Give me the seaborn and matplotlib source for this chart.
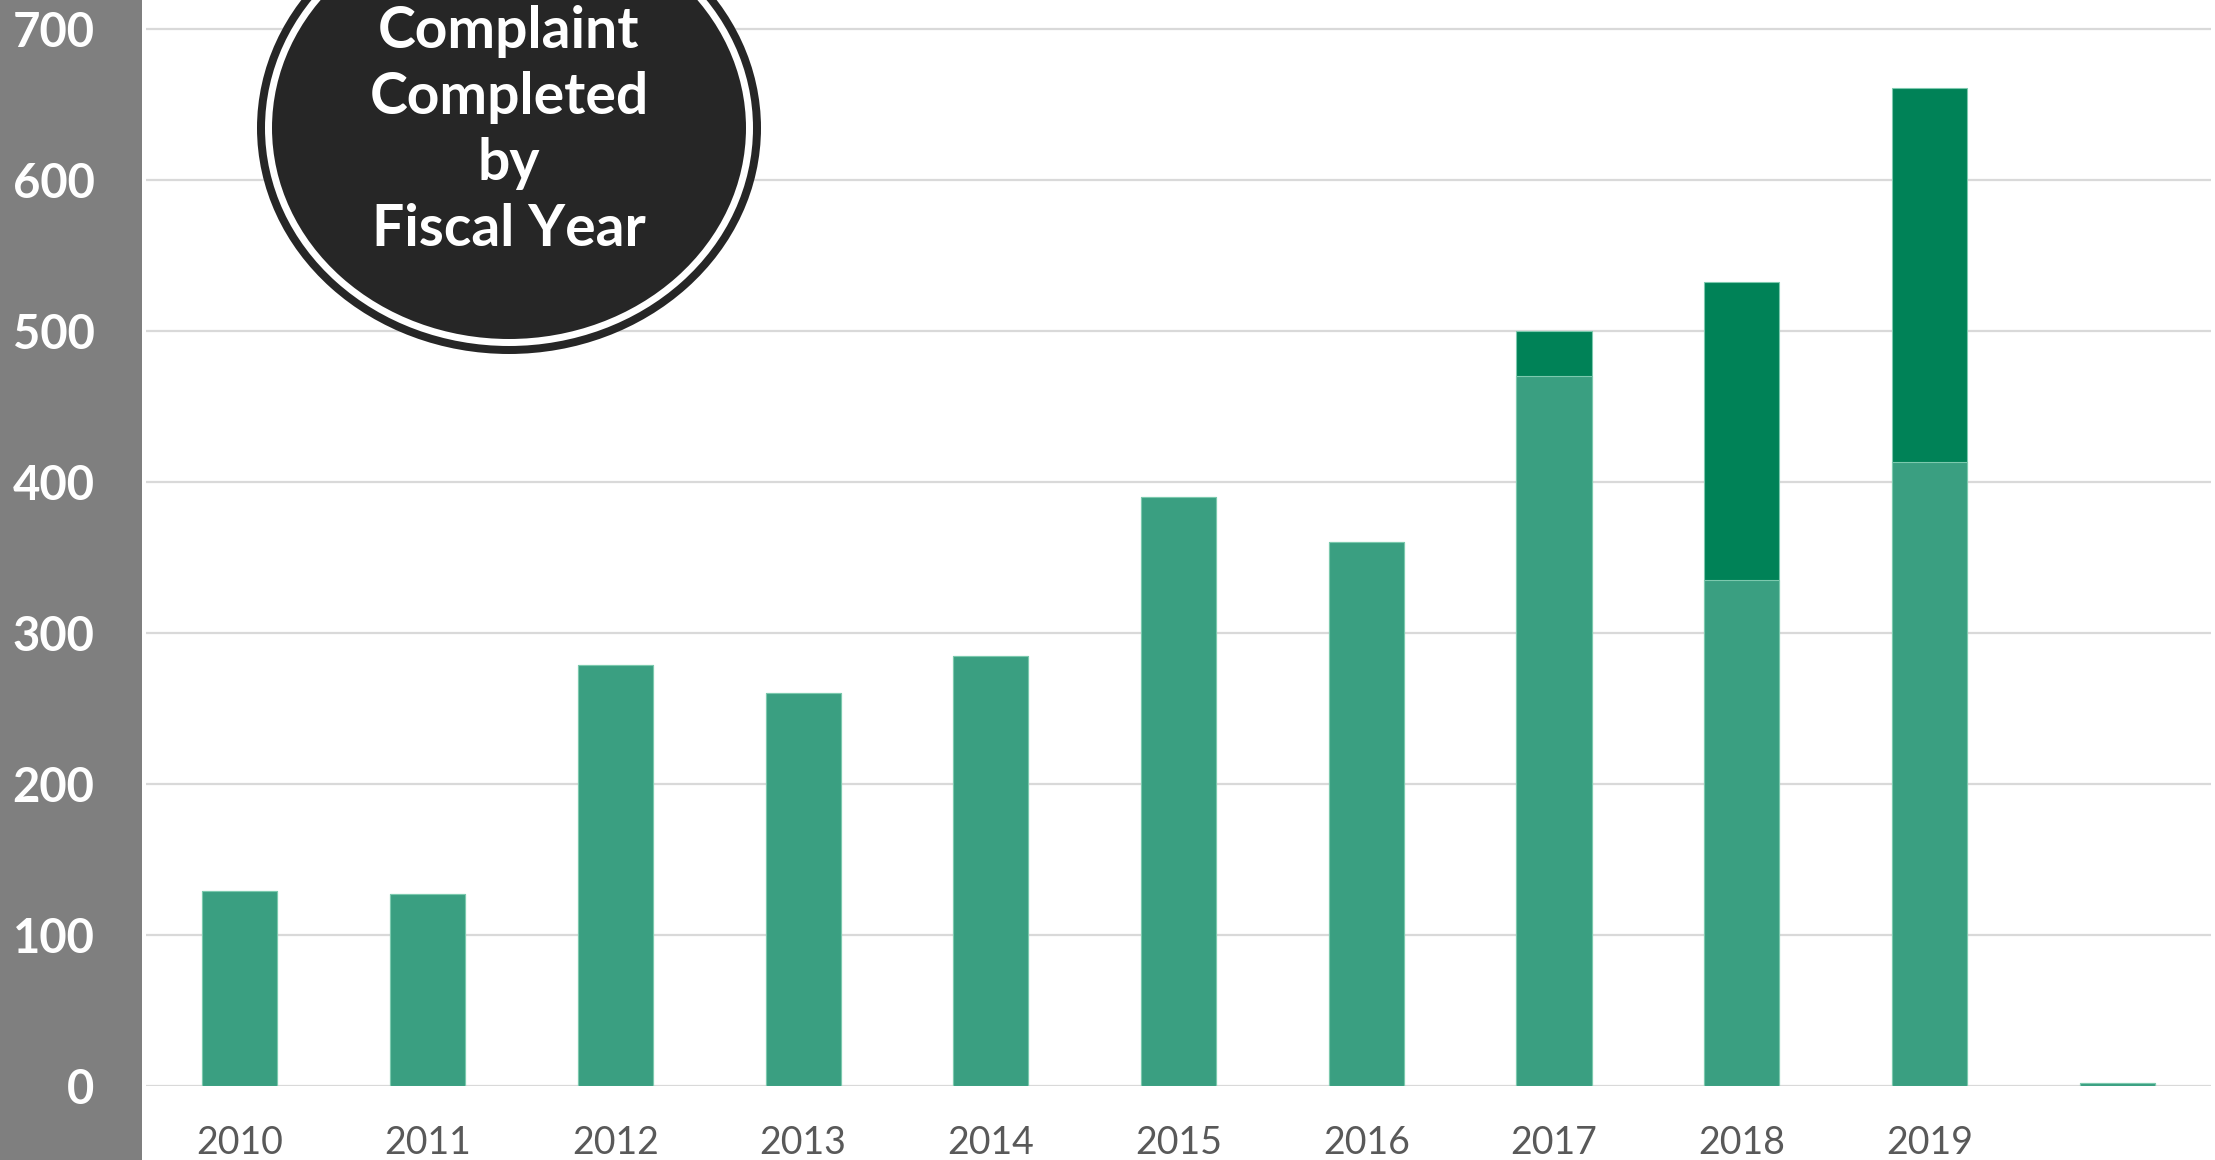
import matplotlib
matplotlib.use("Agg")
import matplotlib.pyplot as plt
from matplotlib.patches import Ellipse, Rectangle
import seaborn as sns
import pandas as pd

# ----------------------------------------------------------
# data
# ----------------------------------------------------------
years = ['2010', '2011', '2012', '2013', '2014', '2015', '2016', '2017', '2018', '2019', '']
base_vals = [129, 127, 279, 260, 285, 390, 360, 470, 335, 413, 2]
extra_vals = [0, 0, 0, 0, 0, 0, 0, 30, 197, 248, 0]
badge_lines = ['Complaint', 'Completed', 'by', 'Fiscal Year']

light_green = '#3a9f81'
dark_green = '#008257'

# ----------------------------------------------------------
# main
# ----------------------------------------------------------
sns.set_style('white')
plt.rcParams['font.family'] = ['Lato', 'DejaVu Sans']

df = pd.DataFrame({'year': years, 'base': base_vals, 'extra': extra_vals})
df['total'] = df['base'] + df['extra']

W, H = 2215, 1160
fig = plt.figure(figsize=(W / 100, H / 100), dpi=100)
fig.patch.set_facecolor('white')

# gray strip behind the y labels
fig.add_artist(Rectangle((0, 0), 142 / W, 1, transform=fig.transFigure,
                         facecolor='#7f7f7f', edgecolor='none', zorder=0))

ax = fig.add_axes([146 / W, (H - 1086) / H, (2211 - 146) / W, 1086 / H])
ax.set_facecolor('none')

sns.barplot(data=df, x='year', y='total', color=dark_green, width=0.4,
            saturation=1, edgecolor='#7cc9ae', linewidth=0.8, ax=ax, zorder=3)
sns.barplot(data=df, x='year', y='base', color=light_green, width=0.4,
            saturation=1, edgecolor='#7cc9ae', linewidth=0.8, ax=ax, zorder=3)

ax.set_xlim(-0.5, 10.5)
ax.set_ylim(0, 719)
ax.set_yticks(range(0, 701, 100))
ax.set_xlabel('')
ax.set_ylabel('')
for s in ax.spines.values():
    s.set_visible(False)
ax.yaxis.grid(True, color='#d9d9d9', lw=1.6, zorder=0)
ax.set_axisbelow(True)
ax.tick_params(axis='y', length=0, pad=37, labelsize=34, labelcolor='white')
ax.tick_params(axis='x', length=0, pad=28, labelsize=27, labelcolor='#595959')
for lbl in ax.get_yticklabels():
    lbl.set_fontweight('bold')

# badge in the top left
cx, cy = 509 / W, 1 - 128 / H
for a, b, col in [(252, 226, '#262626'), (244, 218, 'white'), (237, 211, '#262626')]:
    fig.add_artist(Ellipse((cx, cy), 2 * a / W, 2 * b / H, transform=fig.transFigure,
                           facecolor=col, edgecolor='none', zorder=10))
for line, ypix in zip(badge_lines, [31, 97, 164, 230]):
    fig.text(cx, 1 - ypix / H, line, ha='center', va='center', color='white',
             fontsize=41, fontweight='bold', zorder=11)

fig.savefig('out.png', dpi=100)
